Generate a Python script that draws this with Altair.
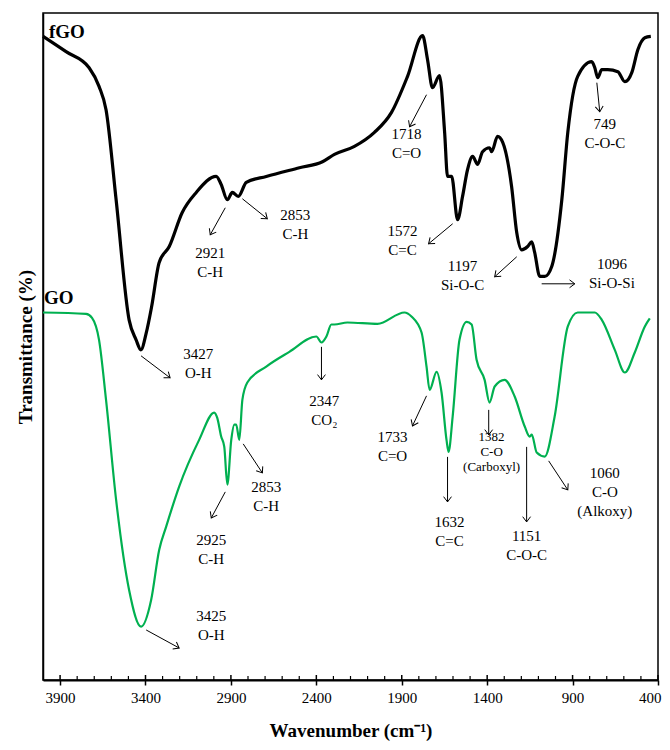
import math
import altair as alt
import pandas as pd

# ---------------- data ----------------
fgo_wn = [4000, 3865, 3730, 3672, 3631, 3572, 3496, 3455, 3427, 3396, 3364, 3320, 3261, 3185, 3103,
          2986, 2957, 2921, 2892, 2857, 2810, 2693, 2499, 2364, 2294, 2177, 2060, 1960, 1866,
          1778, 1749, 1720, 1679, 1649, 1632, 1608, 1573, 1544, 1515, 1485, 1456, 1427, 1386,
          1374, 1339, 1309, 1257, 1227, 1198, 1163, 1139, 1122, 1092, 1063, 1022, 963, 928,
          870, 788, 770, 753, 729, 694, 635, 594, 553, 518, 477, 442]
fgo_t = [96.5, 94.2, 91.8, 89.0, 85.5, 72.0, 54.0, 51.0, 49.5, 52.0, 56.0, 62.6, 65.0, 70.1, 73.1,
         75.5, 74.3, 72.0, 73.1, 72.5, 74.6, 75.5, 76.8, 77.7, 78.8, 80.0, 82.1, 85.1, 90.5,
         96.6, 93.0, 88.8, 90.6, 82.1, 75.5, 75.5, 69.0, 72.5, 76.5, 78.5, 77.3, 79.2, 79.8,
         79.2, 81.5, 80.6, 74.0, 67.1, 64.5, 65.0, 65.7, 64.1, 60.5, 60.5, 62.0, 72.0, 82.1,
         90.5, 92.7, 91.8, 90.3, 91.5, 91.5, 91.2, 89.7, 91.1, 94.5, 96.3, 96.5]

go_wn = [4000, 3748, 3713, 3672, 3631, 3572, 3496, 3426, 3367, 3320, 3279, 3203, 3086, 2998,
         2980, 2957, 2939, 2921, 2898, 2880, 2869, 2851, 2833, 2804, 2693, 2558, 2400, 2370,
         2341, 2312, 2294, 2218, 2042, 1884, 1843, 1784, 1755, 1737, 1696, 1667, 1638, 1626,
         1602, 1562, 1520, 1491, 1462, 1415, 1386, 1356, 1298, 1239, 1180, 1151, 1139, 1110,
         1063, 1005, 928, 870, 770, 729, 653, 594, 536, 477, 448]
go_t = [55.1, 54.9, 54.3, 51.0, 42.0, 27.0, 13.5, 8.0, 12.0, 19.5, 23.0, 29.0, 36.0, 40.1,
        39.3, 36.5, 35.0, 29.3, 36.0, 38.3, 38.3, 36.0, 42.0, 44.6, 47.0, 49.2, 51.5, 50.6,
        51.5, 53.3, 53.3, 53.6, 53.4, 55.1, 54.5, 52.1, 47.0, 43.5, 46.2, 43.1, 36.0, 34.2,
        39.5, 51.0, 53.7, 53.3, 48.0, 45.0, 41.6, 44.0, 45.0, 42.5, 38.0, 36.5, 36.8, 34.1,
        33.5, 39.5, 53.0, 55.1, 55.1, 54.0, 49.5, 46.1, 49.1, 53.0, 54.2]

# annotation labels (centre wavenumber, top transmittance)
lab_text = ["1718\nC=O", "749\nC-O-C", "1572\nC=C", "1197\nSi-O-C", "1096\nSi-O-Si",
            "2921\nC-H", "2853\nC-H", "3427\nO-H",
            "2925\nC-H", "2853\nC-H", "2347\nCO\u2082", "3425\nO-H", "1733\nC=O",
            "1632\nC=C", "1151\nC-O-C", "1060\nC-O\n(Alkoxy)"]
lab_wn = [1872, 711, 1896, 1544, 670, 3021, 2523, 3091,
          3015, 2693, 2353, 3015, 1954, 1620, 1169, 711]
lab_t = [82.5, 84.0, 67.95, 62.7, 63.0, 64.65, 70.35, 49.5,
         21.6, 29.55, 42.45, 10.2, 37.05, 24.3, 22.2, 31.65]

small_text = ["1382\nC-O\n(Carboxyl)"]
small_wn = [1374]
small_t = [37.05]

# arrows: start -> end (arrow head at end)
arr_wn1 = [1755, 758, 1602, 1227, 1081, 2933, 2833, 3426,
           2933, 2828, 2370, 3396, 1755, 1632, 1391, 1169, 1040]
arr_t1 = [87.75, 89.55, 68.4, 63.45, 59.4, 70.8, 72.15, 48.6,
          28.2, 35.4, 49.95, 7.5, 42.6, 33.45, 40.5, 34.95, 32.85]
arr_wn2 = [1854, 741, 1743, 1356, 887, 3021, 2687, 3256,
           3015, 2716, 2370, 3203, 1837, 1632, 1391, 1169, 928]
arr_t2 = [82.95, 85.2, 65.4, 60.45, 59.4, 66.75, 69.15, 45.3,
          24.3, 31.05, 45.0, 4.8, 38.1, 26.7, 36.75, 23.7, 28.5]

series_names = ["fGO", "GO"]
series_wn = [3965, 3994]
series_t = [97.2, 57.3]

major_ticks = [3900, 3400, 2900, 2400, 1900, 1400, 900, 400]
minor_ticks = [v for v in range(500, 4000, 100) if v not in major_ticks]

# ---------------- chart ----------------
W, H = 615, 667
XMIN, XMAX = 400, 4000
YMIN, YMAX = 0, 100
FONT = "Liberation Serif"

xs = alt.Scale(domain=[XMIN, XMAX], reverse=True, nice=False, zero=False)
ys = alt.Scale(domain=[YMIN, YMAX], nice=False, zero=False)

fgo = pd.DataFrame({"wn": fgo_wn, "t": fgo_t})
go = pd.DataFrame({"wn": go_wn, "t": go_t})

x_axis = alt.Axis(values=major_ticks, format="d", title="Wavenumber (cm\u207b\u00b9)", grid=False,
                  labelFont=FONT, labelFontSize=15, labelColor="black", labelPadding=5,
                  tickColor="black", tickSize=5, tickWidth=1.5, domainColor="black",
                  domainWidth=2, titleFont=FONT, titleFontSize=19, titleFontWeight="bold",
                  titleColor="black", titlePadding=16, labelFlush=5, labelFlushOffset=3)
y_axis = alt.Axis(labels=False, ticks=False, grid=False, title="Transmittance (%)",
                  titleFont=FONT, titleFontSize=19, titleFontWeight="bold", titleColor="black",
                  domainColor="black", domainWidth=1.5, titlePadding=8)

X = alt.X("wn:Q", scale=xs, axis=x_axis)
Y = alt.Y("t:Q", scale=ys, axis=y_axis)

go_line = alt.Chart(go).mark_line(color="#00b050", strokeWidth=2.2, interpolate="monotone").encode(
    x=X, y=Y)
fgo_line = alt.Chart(fgo).mark_line(color="black", strokeWidth=3.2, interpolate="monotone").encode(
    x=X, y=Y)

# arrows
angles = []
for a, b, c, d in zip(arr_wn1, arr_t1, arr_wn2, arr_t2):
    dx = (a - c) * W / (XMAX - XMIN)
    dy = (b - d) * H / (YMAX - YMIN)
    angles.append(math.degrees(math.atan2(dy, dx)) % 360)
arr = pd.DataFrame({"wn": arr_wn1, "t": arr_t1, "wn2": arr_wn2, "t2": arr_t2, "ang": angles})

arrow_lines = alt.Chart(arr).mark_rule(color="black", strokeWidth=1).encode(
    x=X, y=Y, x2="wn2:Q", y2="t2:Q")
arrow_heads = alt.Chart(arr).mark_point(
    shape="M-1,-0.75L0,0L-1,0.75", filled=False, stroke="black", strokeWidth=1, size=110, opacity=1
).encode(
    x=alt.X("wn2:Q", scale=xs, axis=x_axis), y=alt.Y("t2:Q", scale=ys, axis=y_axis),
    angle=alt.Angle("ang:Q", scale=None),
)

labs = pd.DataFrame({"wn": lab_wn, "t": lab_t, "label": lab_text})
labels = alt.Chart(labs).mark_text(font=FONT, fontSize=15, lineHeight=19, baseline="top",
                                   align="center", lineBreak="\n", dy=-3, color="black").encode(
    x=X, y=Y, text="label:N")
slabs = pd.DataFrame({"wn": small_wn, "t": small_t, "label": small_text})
small_labels = alt.Chart(slabs).mark_text(font=FONT, fontSize=13, lineHeight=15, baseline="top",
                                          align="center", lineBreak="\n", dy=-2, color="black").encode(
    x=X, y=Y, text="label:N")

sdf = pd.DataFrame({"wn": series_wn, "t": series_t, "name": series_names})
series_labels = alt.Chart(sdf).mark_text(font=FONT, fontSize=19, fontWeight="bold", align="left",
                                         baseline="middle", color="black").encode(
    x=X, y=Y, text="name:N")

# inward tick marks (major cross the axis, minor point inward)
mj = pd.DataFrame({"wn": major_ticks})
mn = pd.DataFrame({"wn": minor_ticks})
major_in = alt.Chart(mj).mark_rule(color="black", strokeWidth=1.5).encode(
    x=X, y=alt.value(H - 5), y2=alt.value(H))
minor_in = alt.Chart(mn).mark_rule(color="black", strokeWidth=1.2).encode(
    x=X, y=alt.value(H - 4), y2=alt.value(H))

chart = alt.layer(
    go_line, fgo_line, arrow_lines, arrow_heads, labels, small_labels, series_labels,
    major_in, minor_in
).properties(
    width=W, height=H,
    autosize=alt.AutoSizeParams(type="none"),
    padding={"left": 35, "top": 5, "right": 4, "bottom": 62},
).configure_view(stroke="black", strokeWidth=1.5)

chart.save("out.html", embed_options={"renderer": "svg", "actions": False})
